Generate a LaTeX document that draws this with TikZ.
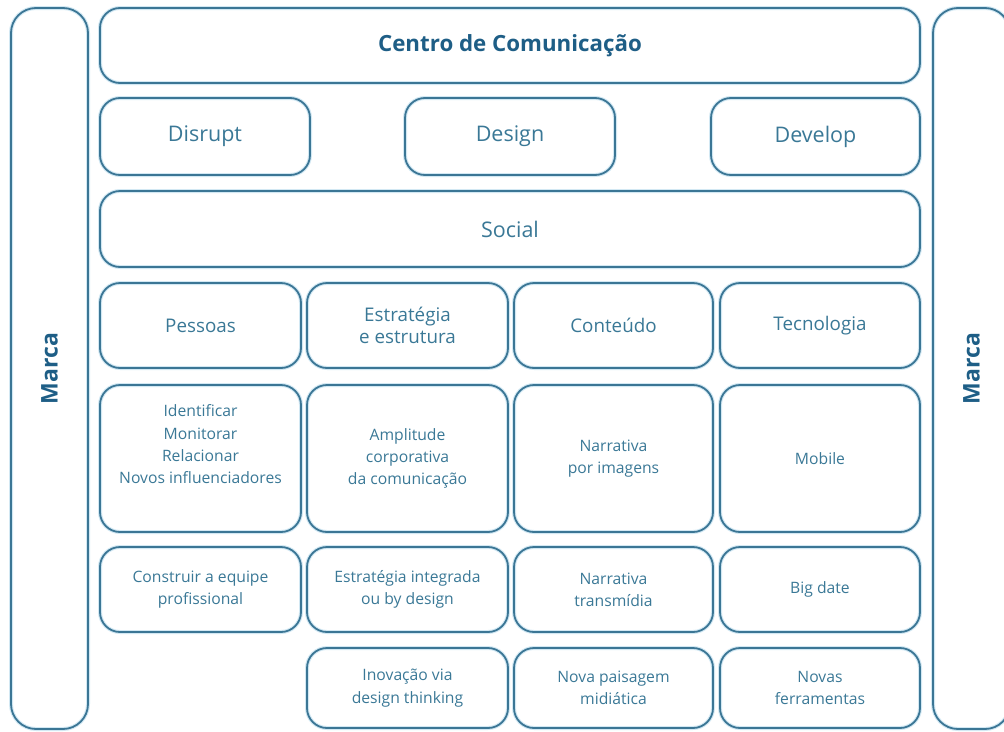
\documentclass[tikz,border=0pt]{standalone}
\usepackage{fontspec}
\setmainfont{Open Sans}
\definecolor{edge}{HTML}{3B7695}
\definecolor{glow}{HTML}{D2E8F3}
\definecolor{ink}{HTML}{3A7896}
\definecolor{darkink}{HTML}{1E5E86}
\begin{document}
\begin{tikzpicture}[x=1pt, y=-1pt]

        % Styles
        \tikzstyle{panel} = [draw=edge, line width=1.8pt, rounded corners=20pt, inner sep=0pt,
                             align=center, text=ink, preaction={draw=glow, line width=4pt}]
        \tikzstyle{head} = [panel, font=\fontsize{21.5}{26}\selectfont]
        \tikzstyle{pillar} = [panel, font=\fontsize{18.8}{22.5}\selectfont]
        \tikzstyle{cell} = [panel, font=\fontsize{15.7}{22.3}\selectfont]
        \tikzstyle{brand} = [panel, rounded corners=25pt, rotate=90, minimum width=721pt,
                             minimum height=77pt, text=darkink, font=\bfseries\fontsize{23}{26}\selectfont]

        \useasboundingbox (0,0) rectangle (1004,731);
        \clip (0,0) rectangle (1004,731);

        % Marca (both sides)
        \node[brand] (marcaL) at (49.5,368.5) {Marca};
        \node[brand] (marcaR) at (971.5,368.5) {Marca};

        % Centro de Comunicacao
        \node[head, minimum width=820pt, minimum height=75pt, text=darkink, font=\bfseries\fontsize{22.3}{26}\selectfont]
            (centro) at (510,45.5) {Centro de Comunicação};

        % Disrupt / Design / Develop
        \node[head, minimum width=210pt, minimum height=77pt] (disrupt) at (205,136.5) {Disrupt};
        \node[head, minimum width=210pt, minimum height=77pt] (design) at (510,136.5) {Design};
        \node[head, minimum width=209pt, minimum height=77pt] (develop) at (815.5,136.5) {Develop};

        % Social
        \node[head, minimum width=820pt, minimum height=76pt] (social) at (510,229) {Social};

        % Four pillars
        \node[pillar, minimum width=201pt, minimum height=85pt] (pessoas) at (200.5,325.5) {Pessoas};
        \node[pillar, minimum width=201pt, minimum height=85pt] (estrategia) at (407.5,325.5) {Estratégia\\e estrutura};
        \node[pillar, minimum width=199pt, minimum height=85pt] (conteudo) at (613.5,325.5) {Conteúdo};
        \node[pillar, minimum width=200pt, minimum height=85pt] (tecnologia) at (820,325.5) {Tecnologia};

        % Second row
        \node[cell, minimum width=201pt, minimum height=147pt] (influencia) at (200.5,458.5)
            {Identificar\\Monitorar\\Relacionar\\Novos influenciadores\\[6pt]};
        \node[cell, minimum width=201pt, minimum height=147pt] (amplitude) at (407.5,458.5)
            {Amplitude\\corporativa\\da comunicação};
        \node[cell, minimum width=199pt, minimum height=147pt] (imagens) at (613.5,458.5)
            {Narrativa\\por imagens};
        \node[cell, minimum width=200pt, minimum height=147pt] (mobile) at (820,458.5) {Mobile};

        % Third row
        \node[cell, minimum width=201pt, minimum height=85pt] (equipe) at (200.5,589.5)
            {Construir a equipe\\profissional};
        \node[cell, minimum width=201pt, minimum height=85pt] (integrada) at (407.5,589.5)
            {Estratégia integrada\\ou by design};
        \node[cell, minimum width=199pt, minimum height=85pt] (transmidia) at (613.5,589.5)
            {Narrativa\\transmídia};
        \node[cell, minimum width=200pt, minimum height=85pt] (bigdate) at (820,589.5) {Big date};

        % Fourth row
        \node[cell, minimum width=201pt, minimum height=80pt] (inovacao) at (407.5,688)
            {Inovação via\\design thinking};
        \node[cell, minimum width=199pt, minimum height=80pt] (paisagem) at (613.5,688)
            {Nova paisagem\\midiática};
        \node[cell, minimum width=200pt, minimum height=80pt] (ferramentas) at (820,688)
            {Novas\\ferramentas};

    \end{tikzpicture}
\end{document}
